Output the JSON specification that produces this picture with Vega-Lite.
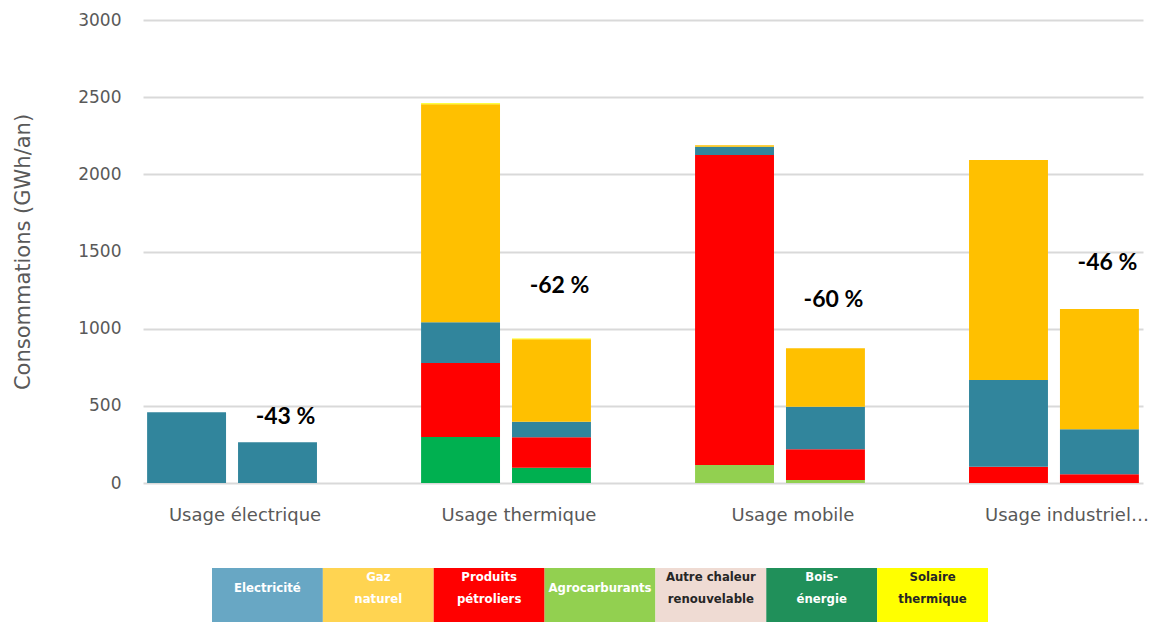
{
  "$schema": "https://vega.github.io/schema/vega-lite/v6.json",
  "background": "white",
  "padding": {"left": 12, "top": 11, "right": 5, "bottom": 0},
  "config": {"view": {"stroke": null}, "font": "DejaVu Sans"},
  "spacing": 44,
  "resolve": {"scale": {"color": "independent", "x": "independent"}},
  "vconcat": [
    {
      "width": 1000,
      "height": 463,
      "layer": [
        {
          "data": {"values": [
            {"usage": "Usage électrique", "phase": "Avant", "energie": "Electricité", "rang": 4, "value": 458},
            {"usage": "Usage électrique", "phase": "Après", "energie": "Electricité", "rang": 4, "value": 264},
            {"usage": "Usage thermique", "phase": "Avant", "energie": "Bois-énergie", "rang": 1, "value": 298},
            {"usage": "Usage thermique", "phase": "Avant", "energie": "Produits pétroliers", "rang": 3, "value": 479},
            {"usage": "Usage thermique", "phase": "Avant", "energie": "Electricité", "rang": 4, "value": 264},
            {"usage": "Usage thermique", "phase": "Avant", "energie": "Gaz naturel", "rang": 5, "value": 1413},
            {"usage": "Usage thermique", "phase": "Avant", "energie": "Solaire thermique", "rang": 6, "value": 6},
            {"usage": "Usage thermique", "phase": "Après", "energie": "Bois-énergie", "rang": 1, "value": 99},
            {"usage": "Usage thermique", "phase": "Après", "energie": "Produits pétroliers", "rang": 3, "value": 197},
            {"usage": "Usage thermique", "phase": "Après", "energie": "Electricité", "rang": 4, "value": 101},
            {"usage": "Usage thermique", "phase": "Après", "energie": "Gaz naturel", "rang": 5, "value": 534},
            {"usage": "Usage thermique", "phase": "Après", "energie": "Solaire thermique", "rang": 6, "value": 6},
            {"usage": "Usage mobile", "phase": "Avant", "energie": "Agrocarburants", "rang": 2, "value": 117},
            {"usage": "Usage mobile", "phase": "Avant", "energie": "Produits pétroliers", "rang": 3, "value": 2008},
            {"usage": "Usage mobile", "phase": "Avant", "energie": "Electricité", "rang": 4, "value": 54},
            {"usage": "Usage mobile", "phase": "Avant", "energie": "Gaz naturel", "rang": 5, "value": 9},
            {"usage": "Usage mobile", "phase": "Après", "energie": "Agrocarburants", "rang": 2, "value": 19},
            {"usage": "Usage mobile", "phase": "Après", "energie": "Produits pétroliers", "rang": 3, "value": 199},
            {"usage": "Usage mobile", "phase": "Après", "energie": "Electricité", "rang": 4, "value": 276},
            {"usage": "Usage mobile", "phase": "Après", "energie": "Gaz naturel", "rang": 5, "value": 379},
            {"usage": "Usage industriel…", "phase": "Avant", "energie": "Produits pétroliers", "rang": 3, "value": 106},
            {"usage": "Usage industriel…", "phase": "Avant", "energie": "Electricité", "rang": 4, "value": 561},
            {"usage": "Usage industriel…", "phase": "Avant", "energie": "Gaz naturel", "rang": 5, "value": 1426},
            {"usage": "Usage industriel…", "phase": "Après", "energie": "Produits pétroliers", "rang": 3, "value": 56},
            {"usage": "Usage industriel…", "phase": "Après", "energie": "Electricité", "rang": 4, "value": 292},
            {"usage": "Usage industriel…", "phase": "Après", "energie": "Gaz naturel", "rang": 5, "value": 779}
          ]},
          "mark": {"type": "bar"},
          "encoding": {
            "x": {
              "field": "usage", "type": "nominal",
              "sort": ["Usage électrique", "Usage thermique", "Usage mobile", "Usage industriel…"],
              "scale": {"paddingInner": 0.38, "paddingOuter": 0.015},
              "axis": {"title": null, "labelAngle": 0, "ticks": false, "domain": false, "labelFontSize": 18, "labelColor": "#595959", "labelPadding": 23, "labelOffset": 13}
            },
            "xOffset": {
              "field": "phase", "type": "nominal", "sort": ["Avant", "Après"],
              "scale": {"paddingInner": 0.132, "paddingOuter": 0}
            },
            "y": {
              "field": "value", "type": "quantitative", "stack": "zero",
              "scale": {"domain": [0, 3000], "nice": false},
              "axis": {"title": "Consommations (GWh/an)", "values": [0, 500, 1000, 1500, 2000, 2500, 3000], "format": "d", "ticks": false, "domain": false, "labelFontSize": 17, "labelColor": "#595959", "labelPadding": 22, "titleFontSize": 21, "titleFontWeight": "normal", "titleColor": "#595959", "titlePadding": 44, "gridColor": "#D9D9D9", "gridWidth": 2}
            },
            "order": {"field": "rang", "type": "quantitative", "sort": "ascending"},
            "color": {
              "field": "energie", "type": "nominal",
              "scale": {
                "domain": ["Bois-énergie", "Agrocarburants", "Produits pétroliers", "Electricité", "Gaz naturel", "Solaire thermique"],
                "range": ["#00B050", "#92D050", "#FF0000", "#31859C", "#FFC000", "#FFFF00"]
              },
              "legend": null
            }
          }
        },
        {
          "data": {"values": [
            {"usage": "Usage électrique", "phase": "Après", "pos": 428, "label": "-43 %"},
            {"usage": "Usage thermique", "phase": "Après", "pos": 1277, "label": "-62 %"},
            {"usage": "Usage mobile", "phase": "Après", "pos": 1186, "label": "-60 %"},
            {"usage": "Usage industriel…", "phase": "Après", "pos": 1426, "label": "-46 %"}
          ]},
          "mark": {"type": "text", "fontSize": 23, "fontWeight": "bold", "color": "#000000", "dx": 8, "baseline": "middle", "font": "Lato"},
          "encoding": {
            "x": {"field": "usage", "type": "nominal", "sort": ["Usage électrique", "Usage thermique", "Usage mobile", "Usage industriel…"]},
            "xOffset": {"field": "phase", "type": "nominal", "sort": ["Avant", "Après"]},
            "y": {"field": "pos", "type": "quantitative", "axis": {"title": "Consommations (GWh/an)"}},
            "text": {"field": "label", "type": "nominal"}
          }
        }
      ]
    },
    {
      "width": 1000,
      "height": 54,
      "data": {"values": [
        {"item": "Electricité", "label": "Electricité", "lignes": 1},
        {"item": "Gaz naturel", "label": "Gaz\nnaturel", "lignes": 2},
        {"item": "Produits pétroliers", "label": "Produits\npétroliers", "lignes": 2},
        {"item": "Agrocarburants", "label": "Agrocarburants", "lignes": 1},
        {"item": "Autre chaleur renouvelable", "label": "Autre chaleur\nrenouvelable", "lignes": 2},
        {"item": "Bois-énergie", "label": "Bois-\nénergie", "lignes": 2},
        {"item": "Solaire thermique", "label": "Solaire\nthermique", "lignes": 2}
      ]},
      "encoding": {
        "x": {"field": "item", "type": "nominal", "sort": null, "scale": {"range": [69, 845], "paddingInner": 0, "paddingOuter": 0}, "axis": null}
      },
      "layer": [
        {
          "mark": {"type": "bar"},
          "encoding": {
            "color": {
              "field": "item", "type": "nominal",
              "scale": {
                "domain": ["Electricité", "Gaz naturel", "Produits pétroliers", "Agrocarburants", "Autre chaleur renouvelable", "Bois-énergie", "Solaire thermique"],
                "range": ["#68A7C4", "#FFD451", "#FF0000", "#92D050", "#EFDBD3", "#20905A", "#FFFF00"]
              },
              "legend": null
            }
          }
        },
        {
          "transform": [{"filter": "datum.lignes == 1"}],
          "mark": {"type": "text", "fontSize": 13, "fontWeight": "bold", "baseline": "middle", "dy": -7, "font": "DejaVu Sans Condensed"},
          "encoding": {
            "text": {"field": "label", "type": "nominal"},
            "color": {"condition": {"test": "datum.item === 'Autre chaleur renouvelable' || datum.item === 'Solaire thermique'", "value": "#262626"}, "value": "#FFFFFF"}
          }
        },
        {
          "transform": [{"filter": "datum.lignes == 2"}],
          "mark": {"type": "text", "fontSize": 13, "fontWeight": "bold", "lineBreak": "\n", "lineHeight": 22, "baseline": "middle", "dy": -18, "font": "DejaVu Sans Condensed"},
          "encoding": {
            "text": {"field": "label", "type": "nominal"},
            "color": {"condition": {"test": "datum.item === 'Autre chaleur renouvelable' || datum.item === 'Solaire thermique'", "value": "#262626"}, "value": "#FFFFFF"}
          }
        }
      ]
    }
  ]
}
